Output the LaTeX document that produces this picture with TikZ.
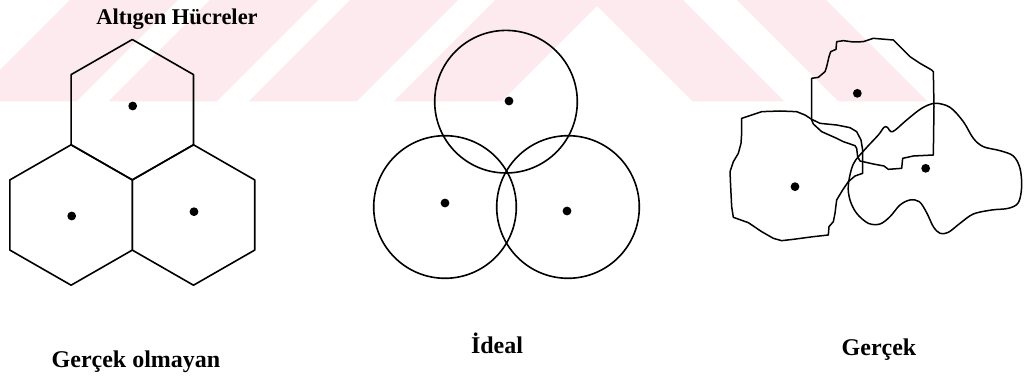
\documentclass[tikz,border=0pt]{standalone}
\usepackage{fontspec}
\setmainfont{Liberation Serif}
\definecolor{wmpink}{RGB}{253,234,238}
\tikzset{
  cellline/.style={line width=1.6pt, black, line join=round},
  sitedot/.style={fill=black, draw=none},
  lbl/.style={font=\fontsize{22.5}{26}\selectfont\bfseries, inner sep=0pt, anchor=base},
  sublbl/.style={font=\fontsize{24}{28}\selectfont\bfseries, inner sep=0pt, anchor=base},
  wm/.style={fill=wmpink, draw=none}
}
\begin{document}
\begin{tikzpicture}[x=1pt, y=-1pt]
\useasboundingbox (0,0) rectangle (1026,390);
% watermark
\begin{scope}
\clip (0,0) rectangle (1026,101.5);
\fill[wm] (70,0) -- (178,0) -- (76.5,101.5) -- (-31.5,101.5) -- cycle;
\fill[wm] (210,0) -- (318,0) -- (216.5,101.5) -- (108.5,101.5) -- cycle;
\fill[wm] (350,0) -- (458,0) -- (356.5,101.5) -- (248.5,101.5) -- cycle;
\fill[wm] (495,0) -- (683,0) -- (784.5,101.5) -- (692.5,101.5) -- (597,6) -- (501.5,101.5) -- (393.5,101.5) -- cycle;
\fill[wm] (737,0) -- (826,0) -- (927.5,101.5) -- (838.5,101.5) -- cycle;
\end{scope}
% hexagons
\foreach \cx/\cy in {132.3/109.7, 71.1/215, 193.5/215}{
  \draw[cellline, shift={(\cx,\cy)}] (0,-70.2) -- (61.2,-35.1) -- (61.2,35.1) -- (0,70.2) -- (-61.2,35.1) -- (-61.2,-35.1) -- cycle;
}
\fill[sitedot] (132.7,106) circle (4.4);
\fill[sitedot] (71.7,216) circle (4.4);
\fill[sitedot] (194,211.7) circle (4.4);
% circles
\draw[cellline] (506,101.7) circle (71.3);
\draw[cellline] (445,207) circle (71.3);
\draw[cellline] (568,207) circle (71.3);
\fill[sitedot] (509,101) circle (4.4);
\fill[sitedot] (445,203) circle (4.4);
\fill[sitedot] (567,211) circle (4.4);
% real cells
\begin{scope}[shift={(680,0)}, x=0.33333pt, y=-0.33333pt]
\draw[cellline, line width=1.5pt] (395,235) -- (415,232) -- (435,215) -- (440,200) -- (447,170) -- (452,155) -- (468,148) -- (470,125) -- (490,122) -- (520,126) -- (550,125) -- (580,115) -- (640,120) -- (660,140) -- (690,170) -- (720,190) -- (755,210) -- (760,215) -- (762,320) -- (760,465) -- (700,468) -- (668,475) -- (665,505) -- (625,508) -- (612,498) -- (580,492) -- (540,483) -- (533,470) -- (530,445) -- (525,437) -- (490,425) -- (470,415) -- (425,395) -- (400,372) -- (395,360) -- cycle;
\draw[cellline, line width=1.5pt] (185,355) -- (215,345) -- (245,335) -- (300,333) -- (350,335) -- (375,345) -- (395,358) -- (420,370) -- (470,375) -- (510,383) -- (530,395) -- (543,420) -- (548,450) -- (548,520) -- (525,528) -- (505,545) -- (488,570) -- (470,600) -- (465,640) -- (460,665) -- (447,680) -- (445,705) -- (400,710) -- (340,718) -- (305,722) -- (280,715) -- (245,695) -- (205,668) -- (160,652) -- (155,620) -- (152,560) -- (150,515) -- (160,485) -- (175,460) -- (183,430) -- (185,400) -- cycle;
\draw[cellline, line width=1.5pt] plot[smooth cycle, tension=0.55] coordinates {(505,555) (520,492) (555,448) (595,405) (612,382) (622,382) (638,395) (680,360) (725,325) (765,310) (810,322) (850,365) (880,415) (910,440) (960,452) (1000,468) (1020,505) (1025,560) (1015,608) (985,625) (935,630) (880,642) (840,670) (805,697) (780,700) (760,680) (740,638) (718,605) (690,600) (660,615) (630,650) (600,672) (565,670) (530,640) (510,600)};
\fill[sitedot] (532,280) circle (13.2);
\fill[sitedot] (345,560) circle (13.2);
\fill[sitedot] (737,505) circle (13.2);
\end{scope}
% labels
\node[lbl] (title) at (177,25) {Altıgen Hücreler};
\node[sublbl] (nonreal) at (136,367) {Gerçek olmayan};
\node[sublbl] (ideal) at (497,353) {İdeal};
\node[sublbl] (real) at (879,355) {Gerçek};
\end{tikzpicture}
\end{document}
